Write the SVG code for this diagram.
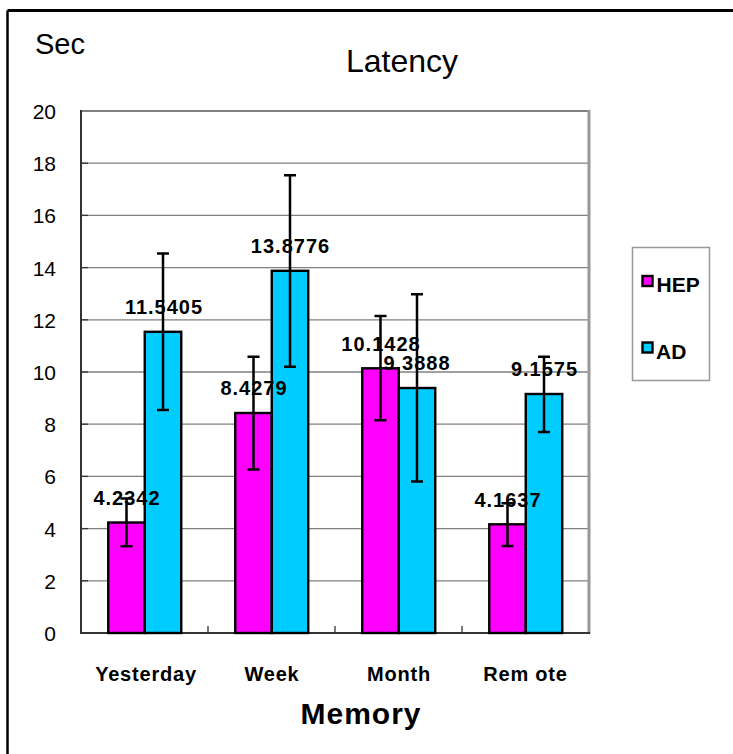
<svg xmlns="http://www.w3.org/2000/svg" width="733" height="754" viewBox="0 0 733 754">
<style>
.grid{stroke:#808080;stroke-width:1.3}
.tick{stroke:#333;stroke-width:1.3}
.hep{fill:#FF00FF;stroke:#000;stroke-width:2.4}
.ad{fill:#00CCFF;stroke:#000;stroke-width:2.4}
.err{stroke:#000;stroke-width:2.5;fill:none}
.ylab{font-family:"Liberation Sans",Arial,sans-serif;font-size:21px;fill:#000;text-anchor:end}
.val{font-family:"Liberation Sans",Arial,sans-serif;font-size:20px;font-weight:bold;fill:#000;text-anchor:middle;letter-spacing:1px}
.cat{font-family:"Liberation Sans",Arial,sans-serif;font-size:20px;font-weight:bold;fill:#000;text-anchor:middle;letter-spacing:0.8px}
.leg{font-family:"Liberation Sans",Arial,sans-serif;font-size:21px;font-weight:bold;fill:#000}
</style>
<rect x="0" y="0" width="733" height="754" fill="#fff"/>
<!-- outer frame -->
<g id="frame">
<line x1="7.5" y1="10.5" x2="733" y2="10.5" stroke="#000" stroke-width="3"/>
<line x1="7.5" y1="10.5" x2="7.5" y2="754" stroke="#000" stroke-width="2.5"/>
</g>
<text x="35" y="54" font-family="'Liberation Sans',Arial,sans-serif" font-size="29" fill="#000">Sec</text>
<text x="402" y="72" font-family="'Liberation Sans',Arial,sans-serif" font-size="32" fill="#000" text-anchor="middle">Latency</text>
<!-- plot area -->
<g id="plot">
<rect x="81.5" y="111" width="507" height="522" fill="#fff" stroke="none"/>
<g class="grid">
<line x1="82" y1="580.8" x2="588" y2="580.8"/>
<line x1="82" y1="528.6" x2="588" y2="528.6"/>
<line x1="82" y1="476.4" x2="588" y2="476.4"/>
<line x1="82" y1="424.2" x2="588" y2="424.2"/>
<line x1="82" y1="372" x2="588" y2="372"/>
<line x1="82" y1="319.8" x2="588" y2="319.8"/>
<line x1="82" y1="267.6" x2="588" y2="267.6"/>
<line x1="82" y1="215.4" x2="588" y2="215.4"/>
<line x1="82" y1="163.2" x2="588" y2="163.2"/>
</g>
<g class="tick">
<line x1="82" y1="580.8" x2="88" y2="580.8"/>
<line x1="82" y1="528.6" x2="88" y2="528.6"/>
<line x1="82" y1="476.4" x2="88" y2="476.4"/>
<line x1="82" y1="424.2" x2="88" y2="424.2"/>
<line x1="82" y1="372" x2="88" y2="372"/>
<line x1="82" y1="319.8" x2="88" y2="319.8"/>
<line x1="82" y1="267.6" x2="88" y2="267.6"/>
<line x1="82" y1="215.4" x2="88" y2="215.4"/>
<line x1="82" y1="163.2" x2="88" y2="163.2"/>
<line x1="208" y1="626" x2="208" y2="633"/>
<line x1="335" y1="626" x2="335" y2="633"/>
<line x1="462" y1="626" x2="462" y2="633"/>
</g>
<line x1="81" y1="111" x2="589" y2="111" stroke="#808080" stroke-width="2"/>
<line x1="589" y1="110" x2="589" y2="634" stroke="#999" stroke-width="3"/>
<line x1="81" y1="110" x2="81" y2="634" stroke="#333" stroke-width="2"/>
<line x1="80" y1="633" x2="590" y2="633" stroke="#333" stroke-width="2"/>
</g>
<!-- y axis labels -->
<g id="yaxis">
<text class="ylab" x="56" y="119">20</text>
<text class="ylab" x="56" y="171.2">18</text>
<text class="ylab" x="56" y="223.4">16</text>
<text class="ylab" x="56" y="275.6">14</text>
<text class="ylab" x="56" y="327.8">12</text>
<text class="ylab" x="56" y="380">10</text>
<text class="ylab" x="56" y="432.2">8</text>
<text class="ylab" x="56" y="484.4">6</text>
<text class="ylab" x="56" y="536.6">4</text>
<text class="ylab" x="56" y="588.8">2</text>
<text class="ylab" x="56" y="641">0</text>
</g>
<!-- bars -->
<g id="bar-yesterday">
<rect class="hep" x="108.25" y="522.5" width="36.5" height="110.5"/>
<rect class="ad" x="144.75" y="331.8" width="36.5" height="301.2"/>
</g>
<g id="bar-week">
<rect class="hep" x="235.25" y="413" width="36.5" height="220"/>
<rect class="ad" x="271.75" y="270.8" width="36.5" height="362.2"/>
</g>
<g id="bar-month">
<rect class="hep" x="362.25" y="368.3" width="36.5" height="264.7"/>
<rect class="ad" x="398.75" y="388" width="36.5" height="245"/>
</g>
<g id="bar-remote">
<rect class="hep" x="489.25" y="524.3" width="36.5" height="108.7"/>
<rect class="ad" x="525.75" y="394" width="36.5" height="239"/>
</g>
<!-- error bars -->
<g id="errorbars" class="err">
<path d="M126.5 498.6V546.3M120.5 498.6H132.5M120.5 546.3H132.5"/>
<path d="M163 253.5V410M157 253.5H169M157 410H169"/>
<path d="M253.5 356.7V469.4M247.5 356.7H259.5M247.5 469.4H259.5"/>
<path d="M290 175.3V366.7M284 175.3H296M284 366.7H296"/>
<path d="M380.5 316V420.3M374.5 316H386.5M374.5 420.3H386.5"/>
<path d="M417 294.3V481.6M411 294.3H423M411 481.6H423"/>
<path d="M507.5 503.3V546M501.5 503.3H513.5M501.5 546H513.5"/>
<path d="M544 356.7V432M538 356.7H550M538 432H550"/>
</g>
<!-- value labels -->
<g id="values">
<text class="val" x="127" y="505">4.2342</text>
<text class="val" x="164" y="313.5">11.5405</text>
<text class="val" x="254" y="395">8.4279</text>
<text class="val" x="290.5" y="253">13.8776</text>
<text class="val" x="381" y="350.5">10.1428</text>
<text class="val" x="417" y="370">9.3888</text>
<text class="val" x="508" y="506.5">4.1637</text>
<text class="val" x="544.5" y="376">9.1575</text>
</g>
<!-- category labels -->
<g id="categories">
<text class="cat" x="146" y="680.5">Yesterday</text>
<text class="cat" x="272" y="680.5">Week</text>
<text class="cat" x="399" y="680.5">Month</text>
<text class="cat" x="525.5" y="680.5">Rem ote</text>
</g>
<text x="361" y="723.5" font-family="'Liberation Sans',Arial,sans-serif" font-size="30" font-weight="bold" fill="#000" text-anchor="middle" letter-spacing="1">Memory</text>
<!-- legend -->
<g id="legend">
<rect x="632.5" y="247.5" width="77" height="133" fill="#fff" stroke="#999" stroke-width="1.5"/>
<rect class="hep" x="642.5" y="276" width="10" height="10"/>
<text class="leg" x="656.5" y="292.3">HEP</text>
<rect class="ad" x="642.5" y="342.5" width="10" height="10"/>
<text class="leg" x="656" y="359.3">AD</text>
</g>
</svg>
